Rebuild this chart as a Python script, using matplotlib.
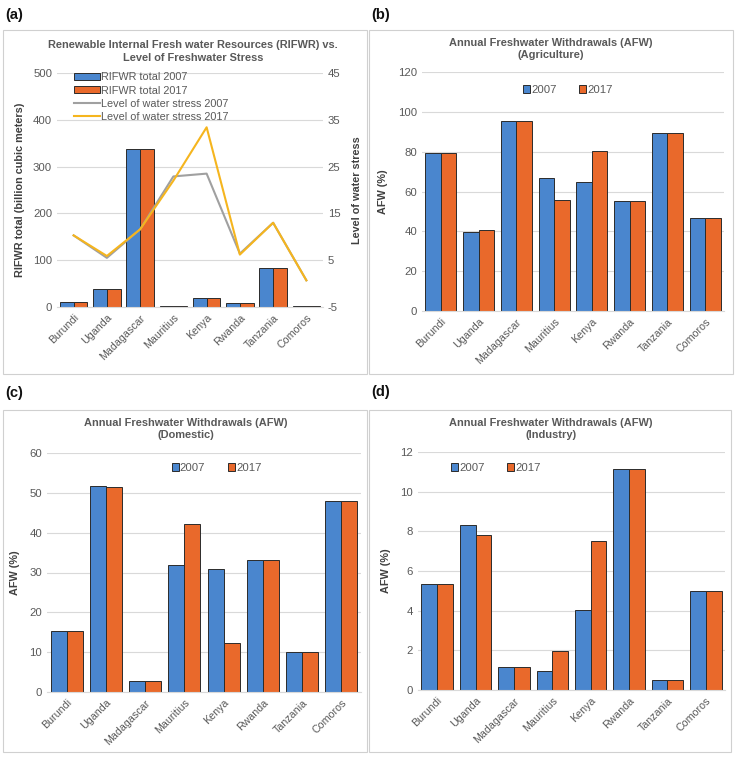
import matplotlib
matplotlib.use("Agg")
import matplotlib.pyplot as plt
from matplotlib.patches import Rectangle, Patch
from matplotlib.lines import Line2D
import numpy as np

plt.rcParams['font.family'] = ['Liberation Sans', 'DejaVu Sans']
plt.rcParams['axes.unicode_minus'] = False

countries = ["Burundi", "Uganda", "Madagascar", "Mauritius", "Kenya", "Rwanda", "Tanzania", "Comoros"]

rifwr_2007 = [10, 39, 337, 2.75, 20, 9.5, 84, 1.2]
rifwr_2017 = [10, 39, 337, 2.75, 20, 9.5, 84, 1.2]
stress_2007 = [10.3, 5.5, 11.6, 22.9, 23.5, 6.4, 13.0, 0.7]
stress_2017 = [10.3, 5.9, 11.6, 22.0, 33.4, 6.2, 13.0, 0.7]

agri_2007 = [79.1, 39.8, 95.4, 66.8, 64.8, 55.2, 89.3, 46.9]
agri_2017 = [79.1, 40.8, 95.4, 55.7, 80.1, 55.2, 89.3, 46.9]

dom_2007 = [15.4, 51.6, 2.85, 31.9, 30.9, 33.2, 10.1, 47.9]
dom_2017 = [15.4, 51.4, 2.85, 42.1, 12.2, 33.2, 10.1, 47.9]

ind_2007 = [5.32, 8.33, 1.18, 0.95, 4.04, 11.14, 0.48, 4.97]
ind_2017 = [5.32, 7.83, 1.18, 1.95, 7.50, 11.14, 0.48, 4.97]

W, H = 738, 758
BLUE = "#4A86CE"
ORANGE = "#E9692B"
GRAY_LINE = "#A0A0A0"
YELLOW = "#F5B51E"
TXT = "#595959"
GRID = "#D9D9D9"
TICK_FS = 8.2
XTICK_FS = 7.7
TITLE_FS = 7.9
LABEL_FS = 7.8

fig = plt.figure(figsize=(W / 100, H / 100), dpi=100)


def ax_at(x0, y0, x1, y1):
    return fig.add_axes([x0 / W, 1 - y1 / H, (x1 - x0) / W, (y1 - y0) / H])


def box(x0, y0, x1, y1):
    fig.add_artist(Rectangle((x0 / W, 1 - y1 / H), (x1 - x0) / W, (y1 - y0) / H,
                             transform=fig.transFigure, fill=False,
                             edgecolor="#D0D0D0", linewidth=0.8))


def ftext(x, y, s, **kw):
    fig.text(x / W, 1 - y / H, s, **kw)


def style_axis(ax, ymax, ystep):
    ax.set_xlim(-0.5, len(countries) - 0.5)
    ax.set_ylim(0, ymax)
    ax.set_yticks(np.arange(0, ymax + ystep / 2, ystep))
    ax.yaxis.grid(True, color=GRID, linewidth=0.8)
    ax.set_axisbelow(True)
    for s in ["top", "right", "left"]:
        ax.spines[s].set_visible(False)
    ax.spines["bottom"].set_color(GRID)
    ax.tick_params(axis="both", length=0, colors=TXT)
    ax.tick_params(axis="y", labelsize=TICK_FS)
    ax.set_xticks(np.arange(len(countries)))
    ax.set_xticklabels(countries, rotation=45, ha="right", rotation_mode="anchor", fontsize=XTICK_FS)
    ax.tick_params(axis="x", pad=4)


def bars(ax, v1, v2):
    x = np.arange(len(countries))
    w = 0.41
    ax.bar(x - w / 2, v1, w, color=BLUE, edgecolor="#2b2b2b", linewidth=0.7, label="2007", zorder=2)
    ax.bar(x + w / 2, v2, w, color=ORANGE, edgecolor="#2b2b2b", linewidth=0.7, label="2017", zorder=2)


# boxes
box(3, 30, 367, 374)
box(369, 30, 733, 374)
box(3, 410, 367, 752)
box(369, 410, 731, 752)

# panel labels
for x, y, s in [(5, 15, "(a)"), (371, 15, "(b)"), (5, 393, "(c)"), (371, 392, "(d)")]:
    ftext(x, y, s, fontsize=10.5, fontweight="bold", va="center", ha="left", color="#111111")

# ---------- (a)
ax = ax_at(57, 73, 323, 307)
bars(ax, rifwr_2007, rifwr_2017)
style_axis(ax, 500, 100)
ax.set_ylabel("RIFWR total (billion cubic meters)", fontsize=LABEL_FS, fontweight="bold", color="#404040", labelpad=6)
ax2 = ax.twinx()
x = np.arange(len(countries))
ax2.plot(x, stress_2007, color=GRAY_LINE, linewidth=1.5, zorder=3)
ax2.plot(x, stress_2017, color=YELLOW, linewidth=1.5, zorder=4)
ax2.set_ylim(-5, 45)
ax2.set_yticks(np.arange(-5, 46, 10))
ax2.tick_params(axis="y", length=0, colors=TXT, labelsize=TICK_FS)
for s in ["top", "right", "left", "bottom"]:
    ax2.spines[s].set_visible(False)
ax2.set_ylabel("Level of water stress", fontsize=LABEL_FS, fontweight="bold", color="#404040", labelpad=8)
handles = [Patch(facecolor=BLUE, edgecolor="#2b2b2b", linewidth=0.7),
           Patch(facecolor=ORANGE, edgecolor="#2b2b2b", linewidth=0.7),
           Line2D([], [], color=GRAY_LINE, linewidth=1.5),
           Line2D([], [], color=YELLOW, linewidth=1.5)]
labels = ["RIFWR total 2007", "RIFWR total 2017", "Level of water stress 2007", "Level of water stress 2017"]
leg = ax2.legend(handles, labels, loc="upper left", bbox_to_anchor=(0.04, 1.03), frameon=False,
                 fontsize=7.8, labelspacing=0.28, handlelength=2.4, handleheight=0.55,
                 handletextpad=0.1, borderpad=0.1, labelcolor=TXT)
ftext(193, 45, "Renewable Internal Fresh water Resources (RIFWR) vs.", fontsize=TITLE_FS, fontweight="bold",
      color=TXT, ha="center", va="center")
ftext(193, 58, "Level of Freshwater Stress", fontsize=TITLE_FS, fontweight="bold", color=TXT, ha="center", va="center")


def withdrawal_panel(rect, v1, v2, ymax, ystep, title2, center_x, title_y, leg_anchor):
    ax = ax_at(*rect)
    bars(ax, v1, v2)
    style_axis(ax, ymax, ystep)
    ax.set_ylabel("AFW (%)", fontsize=LABEL_FS, fontweight="bold", color="#404040", labelpad=7)
    ax.legend(loc="center", bbox_to_anchor=leg_anchor, ncol=2, frameon=False, fontsize=8.2,
              handlelength=0.6, handleheight=0.6, handletextpad=0.1, columnspacing=2.0,
              labelcolor=TXT)
    ftext(center_x, title_y, "Annual Freshwater Withdrawals (AFW)", fontsize=TITLE_FS, fontweight="bold",
          color=TXT, ha="center", va="center")
    ftext(center_x, title_y + 12.5, title2, fontsize=TITLE_FS, fontweight="bold", color=TXT, ha="center", va="center")
    return ax


# ---------- (b)
withdrawal_panel((422, 72, 724, 311), agri_2007, agri_2017, 120, 20, "(Agriculture)", 551, 43,
                 (0.483, 0.925))
# ---------- (c)
withdrawal_panel((47, 453, 361, 692), dom_2007, dom_2017, 60, 10, "(Domestic)", 186, 423,
                 (0.54, 0.937))
# ---------- (d)
withdrawal_panel((418, 452, 725, 690), ind_2007, ind_2017, 12, 2, "(Industry)", 551, 423,
                 (0.254, 0.933))

fig.savefig("out.png", dpi=100, facecolor="white")
